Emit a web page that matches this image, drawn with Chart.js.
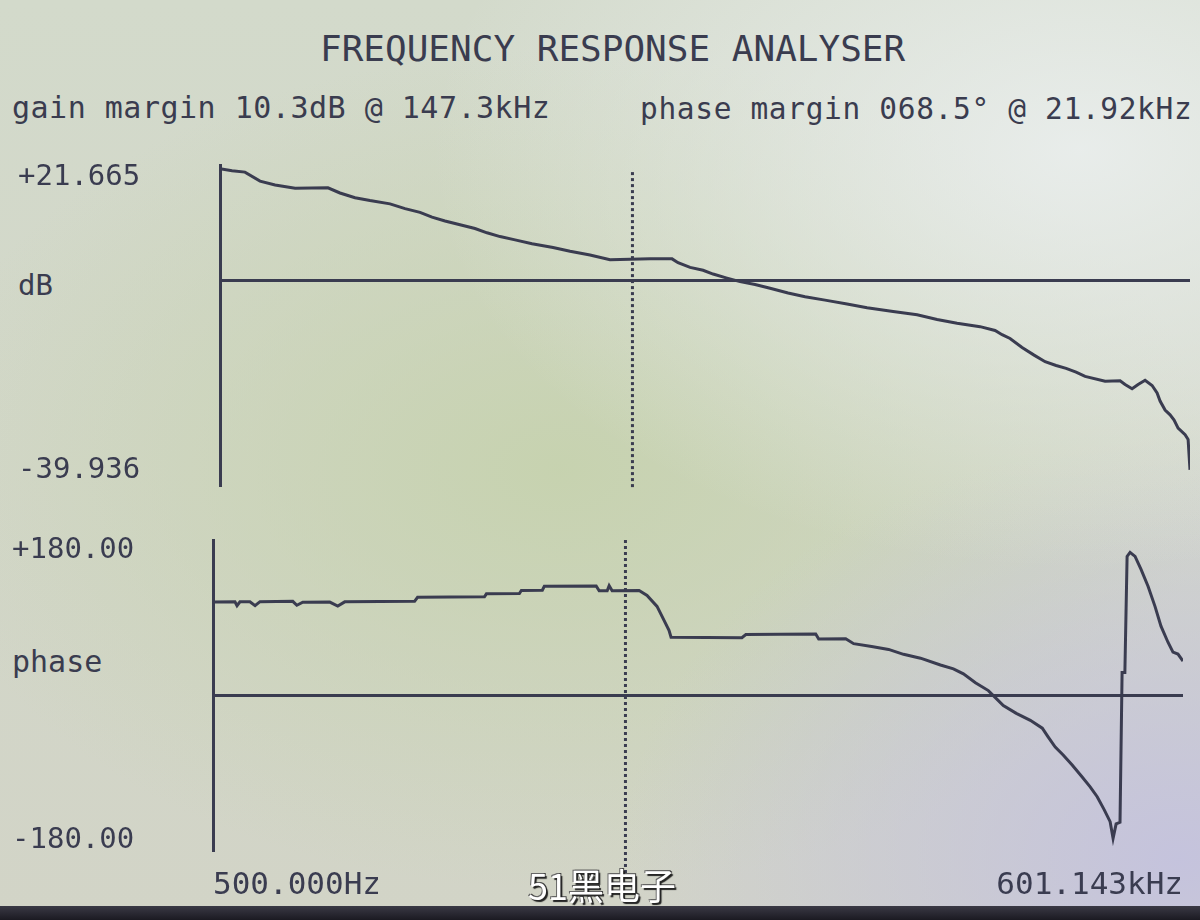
<!DOCTYPE html>
<html>
<head>
<meta charset="utf-8">
<script src="https://cdn.jsdelivr.net/npm/chart.js@4.4.0/dist/chart.umd.min.js"></script>
<style>
html,body{margin:0;padding:0;width:1200px;height:920px;overflow:hidden}
body{position:relative;
 background:
  radial-gradient(ellipse 650px 420px at 1080px 150px, rgba(236,240,240,0.85), rgba(236,240,240,0) 100%),
  radial-gradient(ellipse 560px 420px at 1180px 860px, rgba(196,194,222,0.95), rgba(196,194,222,0) 100%),
  radial-gradient(ellipse 650px 420px at 560px 470px, rgba(198,210,174,0.95), rgba(198,210,174,0) 100%),
  linear-gradient(#d3dacb, #d2d4c7);
}
.t{position:absolute;font-family:"DejaVu Sans Mono","Liberation Mono",monospace;color:#3a3c4f;white-space:nowrap;line-height:1}
canvas{position:absolute;left:0}
#bezel{position:absolute;left:0;top:906px;width:1200px;height:14px;background:linear-gradient(#3a3945,#1b1a22)}
#wm{position:absolute;left:528px;top:866px;font-family:"Noto Sans CJK SC",sans-serif;font-size:36px;line-height:1;color:#fff;
 text-shadow:2px 2px 1px #222,-1px -1px 0 #666,1px -1px 0 #444;white-space:nowrap;z-index:5}
</style>
</head>
<body>
<div class="t" id="ttl" style="left:320px;top:31px;font-size:36px"></div>
<div class="t" id="gm" style="left:12px;top:93px;font-size:30px;letter-spacing:0.5px"></div>
<div class="t" id="pm" style="left:640px;top:95px;font-size:29.5px;letter-spacing:0.65px"></div>
<div class="t" style="left:18px;top:271px;font-size:29px">dB</div>
<div class="t" style="left:12px;top:647px;font-size:30px">phase</div>
<canvas id="gain" width="1200" height="520" style="top:0"></canvas>
<canvas id="phase" width="1200" height="420" style="top:500px"></canvas>
<div id="bezel"></div>
<div id="wm">51黑电子</div>
<script>
// ---- data ----
const titleText = "FREQUENCY RESPONSE ANALYSER";
const gainMarginText = "gain margin 10.3dB @ 147.3kHz";
const phaseMarginText = "phase margin 068.5\u00b0 @ 21.92kHz";

const freqMin = 500;
const freqMax = 601143;
const xTickValues = [500, 601143];
const xTickLabels = ["500.000Hz", "601.143kHz"];

const gainTickValues = [21.665, 0, -39.936];
const gainTickLabels = ["+21.665", "", "-39.936"];
const gainAxisMax = 24.4;
const gainAxisMin = -43.1;

const phaseTickValues = [180, 0, -180];
const phaseTickLabels = ["+180.00", "", "-180.00"];
const phaseAxisMax = 192.4;
const phaseAxisMin = -192.4;

const cursorFreq = 10200;
const cursorGainSpan = [22.9, -43.7];
const cursorPhaseSpan = [192.4, -223];

const gainFreq = [500, 546, 600, 670, 748, 866, 1101, 1202, 1342, 1497,
  1733, 1934, 2158, 2356, 2591, 2891, 3226, 3522, 3874, 4324,
  4895, 5708, 6464, 7480, 8659, 11605, 13626, 14236, 15546, 17096,
  18392, 20228, 22403, 25000, 27898, 31823, 36035, 41704, 48987, 56700,
  68600, 81750, 94600, 109500, 129550, 144550, 152150, 161300, 176100, 192250,
  208450, 225850, 243000, 261350, 279200, 323200, 360550, 374000, 393650, 411300,
  432900, 455650, 472600, 483050, 501000, 519700, 535150, 551050, 580000, 592900,
  601143];
const gainDb = [23.6, 23.2, 22.9, 21.0, 20.2, 19.5, 19.6, 18.5, 17.5, 16.9,
  16.2, 15.2, 14.4, 13.4, 12.6, 11.8, 11.0, 10.1, 9.3, 8.6,
  7.8, 7.0, 6.2, 5.4, 4.4, 4.6, 4.6, 3.8, 2.8, 2.2,
  1.4, 0.6, -0.2, -0.8, -1.6, -2.6, -3.4, -4.1, -4.9, -5.7,
  -6.5, -7.2, -8.2, -9.0, -9.7, -10.5, -11.4, -12.2, -14.1, -15.7,
  -17.1, -17.9, -18.5, -19.3, -20.2, -21.2, -21.1, -21.9, -22.8, -21.9,
  -21.0, -22.1, -23.7, -25.4, -27.3, -28.3, -29.4, -31.1, -32.5, -33.5,
  -39.9];

const phaseFreq = [500, 587, 596, 609, 655, 680, 705, 896, 923, 964,
  1174, 1245, 1310, 2183, 2231, 3638, 3691, 4697, 4765, 5555,
  5636, 8235, 8418, 8925, 9055, 9255, 11270, 11945, 12850, 13525,
  14025, 14235, 23895, 24600, 41000, 41900, 51050, 54100, 61700, 69850,
  77900, 88200, 102050, 112200, 120700, 131800, 144850, 152450, 161600, 177700,
  196850, 214850, 224450, 236200, 250300, 267350, 287600, 304900, 321000, 337750,
  352850, 360550, 368650, 379300, 385100, 393000, 399450, 408200, 423400, 442350,
  465550, 489850, 511750, 538600, 558650, 579400, 601143];
const phaseDeg = [115.4, 115.7, 110.8, 115.7, 115.8, 110.9, 115.9, 116.3, 111.4, 115.2,
  115.4, 110.5, 115.6, 116.3, 121.3, 121.9, 125.6, 126.0, 129.7, 130.0,
  134.9, 135.4, 129.3, 129.4, 135.7, 129.5, 129.7, 123.6, 110.0, 92.7,
  80.3, 71.7, 71.1, 75.0, 75.7, 69.5, 69.8, 63.7, 60.1, 56.6,
  50.5, 45.7, 37.2, 32.4, 26.3, 15.3, 5.5, -3.2, -13.0, -22.8,
  -31.4, -41.2, -52.3, -64.7, -74.5, -86.9, -101.7, -114.0, -126.3, -142.3,
  -157.2, -178, -160, -158, 28, 28, 172, 177, 172, 156,
  135, 110, 85.4, 65.5, 53.2, 50.8, 42.2];

// ---- styles ----
const INK = "#3a3c50";
const FONT = '"DejaVu Sans Mono","Liberation Mono",monospace';

document.getElementById("ttl").textContent = titleText;
document.getElementById("gm").textContent = gainMarginText;
document.getElementById("pm").textContent = phaseMarginText;

function pts(xs, ys){ return xs.map((x,i)=>({x:x, y:ys[i]})); }

function yScale(min, max, tickVals, tickLabels, width){
  return {
    type: "linear", min: min, max: max,
    afterBuildTicks: s => { s.ticks = tickVals.map(v => ({value: v})); },
    afterFit: s => { s.width = width; },
    ticks: {
      color: INK, font: {family: FONT, size: 29}, crossAlign: "far", padding: 0,
      autoSkip: false,
      callback: (v, i) => tickLabels[i]
    },
    grid: {
      drawTicks: false, lineWidth: 3,
      color: c => (c.tick && c.tick.value === 0) ? INK : "rgba(0,0,0,0)"
    },
    border: {display: true, color: INK, width: 3}
  };
}

Chart.defaults.animation = false;

new Chart(document.getElementById("gain"), {
  type: "line",
  data: {
    datasets: [
      {data: pts(gainFreq, gainDb), borderColor: INK, borderWidth: 3, pointRadius: 0, tension: 0},
      {data: pts([cursorFreq, cursorFreq], cursorGainSpan), borderColor: INK, borderWidth: 3,
       borderDash: [3, 3], pointRadius: 0, clip: false}
    ]
  },
  options: {
    responsive: false, devicePixelRatio: 1,
    layout: {padding: {left: 18, right: 10, top: 165, bottom: 35}},
    plugins: {legend: {display: false}, tooltip: {enabled: false}},
    scales: {
      x: {type: "logarithmic", min: freqMin, max: freqMax, display: false},
      y: yScale(gainAxisMin, gainAxisMax, gainTickValues, gainTickLabels, 202)
    }
  }
});

new Chart(document.getElementById("phase"), {
  type: "line",
  data: {
    datasets: [
      {data: pts(phaseFreq, phaseDeg), borderColor: INK, borderWidth: 3, pointRadius: 0, tension: 0},
      {data: pts([cursorFreq, cursorFreq], cursorPhaseSpan), borderColor: INK, borderWidth: 3,
       borderDash: [3, 3], pointRadius: 0, clip: false}
    ]
  },
  options: {
    responsive: false, devicePixelRatio: 1,
    layout: {padding: {left: 12, right: 15, top: 40, bottom: 0}},
    plugins: {legend: {display: false}, tooltip: {enabled: false}},
    scales: {
      x: {
        type: "logarithmic", min: freqMin, max: freqMax,
        afterBuildTicks: s => { s.ticks = xTickValues.map(v => ({value: v})); },
        afterFit: s => { s.height = 70; },
        ticks: {color: INK, font: {family: FONT, size: 31}, align: "inner", padding: 17,
                autoSkip: false, maxRotation: 0, minRotation: 0,
                callback: (v, i) => xTickLabels[i]},
        grid: {display: false, drawTicks: false},
        border: {display: false}
      },
      y: yScale(phaseAxisMin, phaseAxisMax, phaseTickValues, phaseTickLabels, 201)
    }
  }
});
</script>
</body>
</html>
